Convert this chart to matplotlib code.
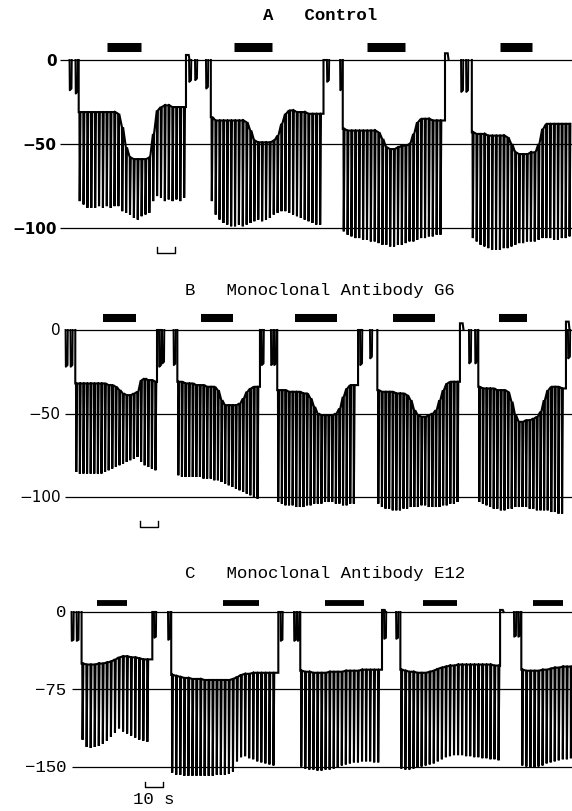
import matplotlib.pyplot as plt

plt.rcParams['font.family'] = ['Liberation Mono', 'DejaVu Sans Mono']

# time in s (scale bar = 10 s), potential in mV
# ---------------- Panel A: Control ----------------
a_period = 2.15
a_first = [11.9, 85.3, 158.6, 230.3]
a_end = [71.1, 147.5, 215.0, None]
a_end_v = [3, 0, 4, 0]
a_hold = [
    [-31, -31, -31, -31, -31, -31, -31, -31, -31, -31, -32, -40, -52, -58, -59, -59, -59, -59, -58, -44,
     -30, -28, -27, -27, -28, -28, -28, -28],
    [-34, -36, -36, -36, -36, -36, -36, -36, -36, -37, -42, -48, -49, -49, -49, -49, -48, -45, -38, -32,
     -30, -30, -31, -31, -31, -32, -32, -32, -32],
    [-41, -42, -42, -42, -42, -42, -42, -42, -42, -43, -47, -52, -53, -53, -52, -51, -51, -50, -44, -37,
     -35, -35, -35, -36, -36, -36],
    [-43, -44, -44, -44, -45, -45, -45, -45, -45, -46, -50, -55, -56, -56, -56, -55, -55, -50, -41, -38,
     -38, -38, -38, -38, -38, -38],
]
a_tip = [
    [-84, -86, -88, -88, -88, -87, -88, -87, -88, -87, -87, -90, -91, -92, -94, -95, -93, -92, -91, -84,
     -81, -82, -84, -83, -84, -83, -84, -82],
    [-84, -92, -95, -97, -98, -99, -99, -98, -99, -98, -97, -96, -95, -96, -95, -94, -92, -91, -90, -90,
     -91, -92, -93, -94, -95, -96, -97, -98, -98],
    [-102, -104, -105, -106, -106, -107, -107, -108, -108, -109, -110, -110, -111, -111, -110, -110, -109,
     -108, -108, -107, -106, -106, -105, -105, -104, -104],
    [-106, -108, -110, -111, -112, -113, -113, -113, -112, -112, -111, -110, -109, -109, -108, -108, -108,
     -107, -106, -106, -106, -107, -107, -106, -106, -105],
]
a_spike_t = [6.4, 9.7, 72.8, 76.1, 82.2, 149.4, 156.7, 223.9, 226.7]
a_spike_v = [-18, -20, -13, -12, -17, -13, -18, -19, -19]
a_bars = [(27.2, 46.1), (97.8, 118.9), (171.7, 192.8), (245.6, 263.3)]

# ---------------- Panel B: Monoclonal Antibody G6 ----------------
b_period = 2.0
b_first = [10.0, 66.7, 122.2, 177.8, 233.9]
b_end = [55.0, 112.2, 166.7, 223.3, 282.2]
b_end_v = [0, 0, 0, 4, 5]
b_hold = [
    [-32, -32, -32, -32, -32, -32, -32, -32, -32, -33, -33, -34, -36, -38, -39, -39, -38, -37, -30, -29,
     -30, -30, -31],
    [-31, -31, -32, -32, -32, -33, -33, -33, -34, -34, -34, -36, -42, -45, -45, -45, -45, -44, -41, -37,
     -35, -34, -34],
    [-36, -36, -36, -37, -37, -37, -37, -38, -38, -41, -46, -50, -51, -51, -51, -51, -50, -47, -40, -35,
     -33, -33],
    [-36, -37, -37, -37, -37, -38, -38, -38, -39, -42, -48, -51, -52, -52, -51, -50, -48, -42, -36, -32,
     -31, -31, -31],
    [-34, -35, -35, -35, -35, -36, -36, -36, -37, -43, -51, -55, -55, -54, -54, -53, -52, -49, -42, -36,
     -34, -34, -34, -35],
]
b_tip = [
    [-85, -86, -86, -86, -86, -86, -86, -86, -85, -84, -83, -82, -81, -80, -79, -78, -77, -76, -79, -81,
     -82, -83, -84],
    [-87, -88, -88, -88, -88, -88, -88, -89, -89, -89, -90, -90, -91, -92, -93, -94, -95, -96, -97, -98,
     -99, -100, -101],
    [-103, -104, -105, -105, -105, -106, -106, -106, -105, -105, -104, -104, -104, -103, -103, -103, -104,
     -104, -105, -105, -104, -104],
    [-104, -106, -107, -107, -108, -108, -108, -107, -107, -106, -106, -106, -105, -105, -106, -106, -106,
     -106, -105, -105, -104, -104, -103],
    [-103, -104, -105, -106, -107, -107, -108, -108, -107, -107, -106, -106, -106, -106, -107, -107, -108,
     -108, -108, -108, -109, -109, -110, -110],
]
b_spike_t = [4.2, 6.9, 56.1, 57.8, 64.2, 113.1, 118.3, 120.0, 167.8, 173.3, 228.3, 231.7, 283.3]
b_spike_v = [-22, -22, -22, -20, -21, -21, -21, -21, -21, -17, -20, -20, -17]
b_bars = [(25.0, 43.3), (79.4, 97.2), (131.7, 155.0), (186.1, 209.4), (245.0, 260.6)]

# ---------------- Panel C: Monoclonal Antibody E12 ----------------
c_period = 2.25
c_first = [13.5, 63.3, 135.0, 190.6, 257.8]
c_end = [52.4, 122.4, 180.0, 245.6, None]
c_end_v = [0, 0, 2, 2, 0]
c_hold = [
    [-50, -51, -51, -51, -50, -50, -49, -48, -46, -44, -43, -43, -44, -44, -45, -46, -46],
    [-61, -62, -63, -64, -64, -65, -65, -65, -66, -66, -66, -66, -66, -66, -66, -65, -63, -61, -60, -60,
     -59, -59, -59, -59, -59, -59],
    [-57, -58, -58, -59, -59, -59, -59, -58, -58, -58, -58, -57, -57, -57, -57, -56, -56, -56, -56, -56],
    [-56, -57, -58, -58, -59, -59, -59, -58, -57, -55, -54, -53, -52, -52, -51, -51, -51, -51, -51, -51,
     -51, -51, -51, -52, -52],
    [-56, -57, -57, -57, -57, -56, -56, -55, -54, -54, -53, -53, -53],
]
c_tip = [
    [-124, -131, -132, -131, -130, -128, -125, -121, -117, -113, -116, -118, -120, -122, -124, -125, -126],
    [-156, -158, -158, -159, -159, -159, -159, -159, -159, -159, -159, -158, -158, -158, -157, -155, -145,
     -141, -140, -142, -143, -145, -146, -147, -148, -149],
    [-150, -152, -153, -153, -154, -154, -153, -153, -152, -151, -149, -148, -147, -146, -146, -145, -145,
     -145, -146, -146],
    [-152, -153, -153, -152, -151, -150, -149, -148, -147, -145, -143, -141, -140, -139, -139, -139, -140,
     -140, -141, -141, -142, -142, -143, -143, -144],
    [-149, -150, -151, -151, -150, -149, -147, -146, -145, -144, -143, -143, -142],
]
c_spike_t = [7.5, 10.3, 53.3, 61.1, 123.6, 131.1, 133.1, 181.1, 187.8, 253.3, 255.6]
c_spike_v = [-28, -28, -25, -27, -28, -28, -28, -26, -26, -24, -24]
c_bars = [(21.7, 38.3), (91.7, 111.7), (148.3, 170.0), (202.8, 221.7), (263.9, 280.6)]

W, H = 572, 812
fig = plt.figure(figsize=(W / 100, H / 100), dpi=100)
XMAX = 514 / 1.8


def make_ax(y0px, ylowpx, lowval, vmin, vmax):
    ppu = (ylowpx - y0px) / (-lowval)
    top = y0px - vmax * ppu
    bot = y0px - vmin * ppu
    ax = fig.add_axes([58 / W, 1 - bot / H, 514 / W, (bot - top) / H])
    ax.set_xlim(0, XMAX)
    ax.set_ylim(vmin, vmax)
    ax.axis('off')
    return ax


def draw_panel(ax, period, first, end, end_v, hold, tip, sp_t, sp_v, bars, bar_y, bar_lw):
    for k in range(len(first)):
        t0 = first[k]
        xs = [t0 - 0.4, t0 - 0.4]
        ys = [0, hold[k][0]]
        for i, (h, p) in enumerate(zip(hold[k], tip[k])):
            t = t0 + i * period
            xs += [t, t + 0.15, t + 0.6]
            ys += [h, p, h]
        if end[k] is not None:
            xs += [end[k], end[k], end[k] + 1.5, end[k] + 2.0]
            ys += [hold[k][-1], end_v[k], end_v[k], 0]
        ax.plot(xs, ys, color='black', lw=1.5, solid_joinstyle='miter', clip_on=False)
    for t, v in zip(sp_t, sp_v):
        ax.plot([t, t + 0.15, t + 1.1, t + 1.25], [0, v, v + 1, 0], color='black', lw=1.4, clip_on=False)
    for b0, b1 in bars:
        ax.plot([b0, b1], [bar_y, bar_y], color='black', lw=bar_lw, solid_capstyle='butt')


# Panel A
axA = make_ax(61, 229, -100, -125, 25)
axA.hlines([0, -50, -100], 1.1, XMAX, color='black', lw=0.9)
draw_panel(axA, a_period, a_first, a_end, a_end_v, a_hold, a_tip, a_spike_t, a_spike_v, a_bars, 7.7, 6.5)
for v in [0, -50, -100]:
    axA.text(-0.8, v, '0' if v == 0 else '\u2212' + str(-v), ha='right', va='center',
             family='DejaVu Sans', fontsize=11, fontweight='bold', clip_on=False)
axA.plot([55, 55, 65, 65], [-111.3, -115, -115, -111.3], color='black', lw=1.0, clip_on=False)

# Panel B
axB = make_ax(331, 498, -100, -125, 25)
axB.hlines([0, -50, -100], 3.9, XMAX, color='black', lw=0.9)
draw_panel(axB, b_period, b_first, b_end, b_end_v, b_hold, b_tip, b_spike_t, b_spike_v, b_bars, 7.2, 5.8)
for v in [0, -50, -100]:
    axB.text(1.5, v, '0' if v == 0 else '\u2212' + str(-v), ha='right', va='center',
             family='DejaVu Sans', fontsize=11, clip_on=False)
axB.plot([45.6, 45.6, 55.6, 55.6], [-114.4, -118, -118, -114.4], color='black', lw=1.0, clip_on=False)

# Panel C
axC = make_ax(613, 767.5, -150, -175, 25)
axC.hlines([0, -75, -150], 7.8, XMAX, color='black', lw=0.9)
draw_panel(axC, c_period, c_first, c_end, c_end_v, c_hold, c_tip, c_spike_t, c_spike_v, c_bars, 8.7, 4.2)
for v in [0, -75, -150]:
    axC.text(4.6, v, '0' if v == 0 else '\u2212' + str(-v), ha='right', va='center',
             fontsize=12.5, clip_on=False)
axC.plot([48.3, 48.3, 58.3, 58.3], [-165, -170, -170, -165], color='black', lw=1.0, clip_on=False)
axC.text(53.3, -181.5, '10 s', ha='center', va='center', fontsize=12.5, clip_on=False)

fig.text(320 / W, 1 - 15 / H, 'A   Control', ha='center', va='center', fontsize=12.5, fontweight='bold')
fig.text(320 / W, 1 - 291 / H, 'B   Monoclonal Antibody G6', ha='center', va='center', fontsize=12.5)
fig.text(325 / W, 1 - 574 / H, 'C   Monoclonal Antibody E12', ha='center', va='center', fontsize=12.5)

fig.savefig('out.png', dpi=100, facecolor='white')
